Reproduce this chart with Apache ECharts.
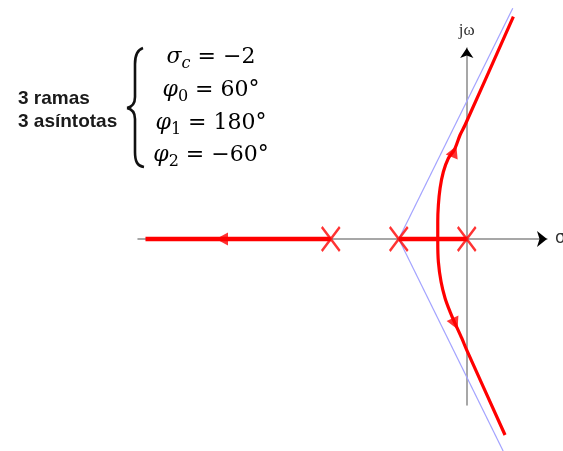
<!DOCTYPE html>
<html>
<head>
<meta charset="utf-8">
<script src="https://cdn.jsdelivr.net/npm/echarts@6/dist/echarts.min.js"></script>
<style>
  html, body { margin: 0; padding: 0; background: #fff; }
  #main { width: 563px; height: 451px; }
</style>
</head>
<body>
<div id="main"></div>
<script>
// polos en lazo abierto (sigma, jw)
const poles = [[0, 0], [-2, 0], [-4, 0]];

// tramos sobre el eje real
const realLeft = [[-4, 0], [-9.45, 0]];
const realMid = [[-2, 0], [0, 0]];

// ramas complejas
const upperBranch = [
  [-0.853, 0], [-0.853, 0.43], [-0.835, 0.85], [-0.785, 1.27], [-0.688, 1.68],
  [-0.541, 2.02], [-0.365, 2.23], [-0.197, 2.60], [-0.05, 2.85], [1.371, 5.56]
];
const lowerBranch = [
  [-0.853, 0], [-0.853, -0.07], [-0.835, -0.57], [-0.756, -1.07], [-0.638, -1.48],
  [-0.491, -1.82], [-0.344, -2.11], [-0.147, -2.48], [0, -2.78], [1.126, -4.9]
];

// asintotas desde el centroide sigma_c = -2
const asymUpper = [[-2, 0], [1.353, 5.77]];
const asymLower = [[-2, 0], [1.07, -5.3]];

// flechas de sentido (posicion y giro en grados)
const arrowPts = [[-7.2, 0], [-0.374, 2.19], [-0.344, -2.12]];
const arrowRot = [90, -23, 205];

// textos
const leftLabels = ["3 ramas", "3 asíntotas"];
const eqLines = [
  "{v|σ}{s|c}{n| = −2}",
  "{v|φ}{d|0}{n| = 60°}",
  "{v|φ}{d|1}{n| = 180°}",
  "{v|φ}{d|2}{n| = −60°}"
];

const RED = "#ff0000";
const chart = echarts.init(document.getElementById("main"));

const axisBase = {
  type: "value",
  axisTick: { show: false },
  axisLabel: { show: false },
  splitLine: { show: false }
};

const richEq = {
  v: { fontFamily: "DejaVu Serif", fontStyle: "italic", fontSize: 22, lineHeight: 30, color: "#111" },
  s: { fontFamily: "DejaVu Serif", fontStyle: "italic", fontSize: 16, lineHeight: 20, verticalAlign: "bottom", color: "#111" },
  d: { fontFamily: "DejaVu Serif", fontSize: 16, lineHeight: 20, verticalAlign: "bottom", color: "#111" },
  n: { fontFamily: "DejaVu Serif", fontSize: 22, lineHeight: 30, color: "#111" }
};

const eqY = [57, 90, 123, 155];
const graphics = [];
leftLabels.forEach((t, i) => {
  graphics.push({
    type: "text", left: 18, top: 89 + i * 23,
    style: { text: t, font: "bold 19px 'Liberation Sans'", fill: "#1a1a1a" }
  });
});
eqLines.forEach((t, i) => {
  graphics.push({
    type: "text", x: 211, y: eqY[i],
    style: { text: t, rich: richEq, align: "center", verticalAlign: "middle" }
  });
});
// llave
const brace = { stroke: "#111", lineWidth: 2.6, fill: null };
graphics.push(
  { type: "bezierCurve", shape: { x1: 143, y1: 48, cpx1: 137, cpy1: 50, cpx2: 135, cpy2: 55, x2: 135, y2: 64 }, style: brace },
  { type: "line", shape: { x1: 135, y1: 64, x2: 135, y2: 97 }, style: brace },
  { type: "bezierCurve", shape: { x1: 135, y1: 97, cpx1: 135, cpy1: 104, cpx2: 132, cpy2: 107, x2: 127, y2: 108 }, style: brace },
  { type: "bezierCurve", shape: { x1: 127, y1: 108, cpx1: 132, cpy1: 109, cpx2: 135, cpy2: 112, x2: 135, y2: 119 }, style: brace },
  { type: "line", shape: { x1: 135, y1: 119, x2: 135, y2: 152 }, style: brace },
  { type: "bezierCurve", shape: { x1: 135, y1: 152, cpx1: 135, cpy1: 161, cpx2: 137, cpy2: 166, x2: 144, y2: 167 }, style: brace }
);

function lineSeries(data, color, width, z, smooth) {
  return {
    type: "line", data: data, symbol: "none", clip: false, z: z,
    smooth: smooth || false,
    lineStyle: { color: color, width: width }
  };
}

const option = {
  animation: false,
  grid: { left: 138, right: 16, top: 48, bottom: 46, containLabel: false, outerBoundsMode: "none" },
  xAxis: [
    Object.assign({}, axisBase, {
      min: -9.67, max: 2.36,
      axisLine: { onZero: true, onZeroAxisIndex: 0, lineStyle: { color: "#8a8a8a", width: 1.5 } },
      name: "σ", nameLocation: "end", nameGap: 8,
      nameTextStyle: { fontFamily: "DejaVu Sans", fontSize: 17, color: "#333", verticalAlign: "middle" }
    }),
    Object.assign({}, axisBase, {
      min: -9.67, max: 2.36,
      axisLine: { onZero: true, onZeroAxisIndex: 0, symbol: ["none", "arrow"], symbolSize: [12, 10], lineStyle: { color: "#000", width: 0 } }
    })
  ],
  yAxis: [
    Object.assign({}, axisBase, {
      min: -4.15, max: 4.775,
      axisLine: { onZero: true, onZeroAxisIndex: 0, lineStyle: { color: "#8a8a8a", width: 1.5 } },
      name: "jω", nameLocation: "end", nameGap: 9,
      nameTextStyle: { fontFamily: "Liberation Serif", fontSize: 17, color: "#333" }
    }),
    Object.assign({}, axisBase, {
      min: -4.15, max: 4.775,
      axisLine: { onZero: true, onZeroAxisIndex: 0, symbol: ["none", "arrow"], symbolSize: [10, 10], lineStyle: { color: "#000", width: 0 } }
    })
  ],
  series: [
    lineSeries(asymUpper, "#a3a3ff", 1.2, 2),
    lineSeries(asymLower, "#a3a3ff", 1.2, 2),
    lineSeries(realLeft, RED, 4.5, 3),
    lineSeries(realMid, RED, 4.5, 3),
    lineSeries(upperBranch, RED, 3.2, 3, 0.3),
    lineSeries(lowerBranch, RED, 3.2, 3, 0.3),
    {
      type: "scatter", z: 5,
      data: poles,
      symbol: "path://M0,0L18,24M18,0L0,24",
      symbolSize: [18, 24],
      itemStyle: { color: "none", borderColor: RED, borderWidth: 2.6 }
    },
    {
      type: "scatter", z: 6,
      data: arrowPts.map((p, i) => ({ value: p, symbolRotate: arrowRot[i] })),
      symbol: "triangle",
      symbolSize: [13, 12],
      itemStyle: { color: RED }
    }
  ],
  graphic: graphics
};

chart.setOption(option);
</script>
</body>
</html>
